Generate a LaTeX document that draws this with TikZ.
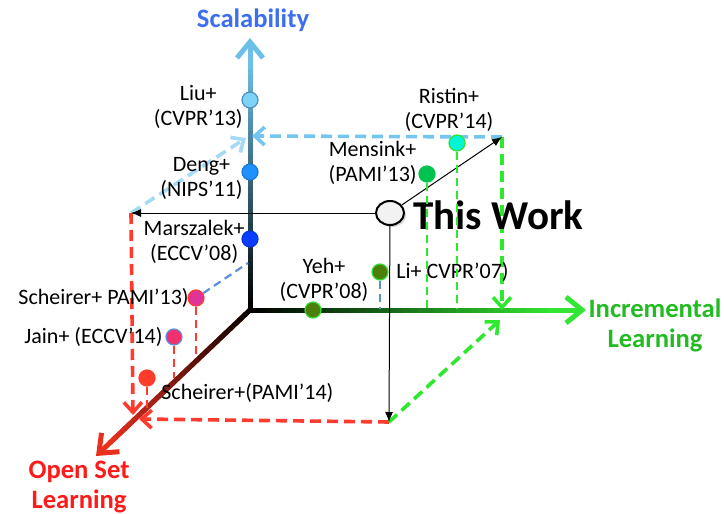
\documentclass[tikz,border=0pt]{standalone}
\usepackage{fontspec}
\setmainfont{Carlito}
\usetikzlibrary{arrows.meta}
\usetikzlibrary{shapes.geometric}
\usetikzlibrary{shadows}
\usetikzlibrary{calc}
\usepackage{xcolor}

\definecolor{scalblue}{HTML}{6CBFE6}
\definecolor{scaltext}{HTML}{3D6EF0}
\definecolor{incgreen}{HTML}{33E633}
\definecolor{inctext}{HTML}{22BB22}
\definecolor{openred}{HTML}{E8301F}
\definecolor{opentext}{HTML}{FF1A1A}
\definecolor{frameblue}{HTML}{74C6F0}
\definecolor{framered}{HTML}{FF3B2F}
\definecolor{framegreen}{HTML}{2EE82E}
\definecolor{dropblue}{HTML}{5A8FE0}
\definecolor{dotgreen}{HTML}{33E033}
\definecolor{twfill}{HTML}{F2F2F2}
% dot colours
\definecolor{liucol}{HTML}{80D2F7}
\definecolor{liuedge}{HTML}{4A90C0}
\definecolor{dengcol}{HTML}{1E90FF}
\definecolor{marscol}{HTML}{0A3DFF}
\definecolor{sch13col}{HTML}{E03399}
\definecolor{jaincol}{HTML}{F2306E}
\definecolor{sch14col}{HTML}{FF3B2B}
\definecolor{yehcol}{HTML}{4D7F0A}
\definecolor{menscol}{HTML}{00C24F}
\definecolor{ristcol}{HTML}{00F5D4}

\begin{document}
\begin{tikzpicture}[x=0.5pt,y=-0.5pt,
  axis/.style={line width=2.5pt},
  axistip/.style={-{Straight Barb[length=8pt,width=13pt]}},
  frame/.style={dash pattern=on 5.5pt off 3pt, line width=1.8pt,
    -{Straight Barb[length=5pt,width=9pt]}},
  drop/.style={dash pattern=on 4pt off 2.5pt, line width=1.1pt},
  dot/.style={circle, draw, line width=0.6pt, inner sep=0pt, minimum size=8pt},
  paper/.style={align=center, inner sep=0pt, font=\fontsize{11}{12.5}\selectfont},
  axislabel/.style={align=center, inner sep=0pt, font=\fontsize{13.3}{15}\selectfont\bfseries},
  pointer/.style={-{Latex[length=5pt,width=4pt]}, line width=0.5pt}]

      \useasboundingbox (0,0) rectangle (724,514);

      % axes
      \coordinate (O) at (250,310);
      \coordinate (scaltip) at (250,38);
      \coordinate (inctip) at (586,310);
      \coordinate (opentip) at (96,456);

      \draw[axis, axistip, scalblue] (O) -- (scaltip);
      \draw[axis, axistip, incgreen] (O) -- (inctip);
      \draw[axis, axistip, openred] (O) -- (opentip);

      % colour ramp, in short pieces
      \foreach \i in {0,...,39}{
        \pgfmathtruncatemacro\p{100*\i/39}
        \draw[axis, scalblue!\p!black] ($(O)!\i/44!(scaltip)$) -- ($(O)!\i/44+1/44!(scaltip)$);
        \draw[axis, incgreen!\p!black] ($(O)!\i/44!(inctip)$) -- ($(O)!\i/44+1/44!(inctip)$);
        \draw[axis, openred!\p!black] ($(O)!\i/44!(opentip)$) -- ($(O)!\i/44+1/44!(opentip)$);
      }
      \draw[axis, black, line join=miter] ($(O)!0.03!(scaltip)$) -- (O) -- ($(O)!0.03!(inctip)$);

      \node[axislabel, text=scaltext] (scaltxt) at (253,20) {Scalability};
      \node[axislabel, text=inctext] (inctxt) at (655,325) {Incremental\\Learning};
      \node[axislabel, text=opentext] (opentxt) at (79,487) {Open Set\\Learning};

      % this work and its projections
      \coordinate (back) at (131,213);
      \coordinate (corner) at (502,137);
      \coordinate (floor) at (389,422);
      \coordinate (scalhit) at (252,136);
      \coordinate (scalhitb) at (246,138);
      \coordinate (openhit) at (133,415);
      \coordinate (openhitb) at (139,419);
      \coordinate (inchit) at (502,310);
      \coordinate (inchitb) at (500,320);

      \draw[frame, frameblue] (corner) -- (scalhit);
      \draw[frame, frameblue!65!white] (back) -- (scalhitb);
      \draw[frame, framered] (back) -- (openhit);
      \draw[frame, framered] (floor) -- (openhitb);
      \draw[frame, framegreen] (corner) -- (inchit);
      \draw[frame, framegreen] (floor) -- (inchitb);

      \node[ellipse, draw, line width=1pt, fill=twfill, minimum width=14pt,
      minimum height=12pt, inner sep=0pt,
      drop shadow={shadow xshift=1pt, shadow yshift=-1pt, opacity=0.35}] (tw) at (390,213) {};
      \node[anchor=west, inner sep=0pt, font=\fontsize{20.5}{24}\selectfont\bfseries] (twtxt)
      at (413,215) {This Work};

      \draw[pointer] (tw) -- (back);
      \draw[pointer] (tw) -- (corner);
      \draw[pointer] (tw) -- (floor);

      % scalability
      \node[dot, fill=liucol, draw=liuedge] (liu) at (250,100) {};
      \node[paper, anchor=east] (liutxt) at (243,107) {Liu+\\(CVPR’13)};
      \node[dot, fill=dengcol, draw=dengcol!85!black] (deng) at (250,172) {};
      \node[paper, anchor=east] (dengtxt) at (243,178) {Deng+\\(NIPS’11)};
      \node[dot, fill=marscol, draw=marscol!85!black] (mars) at (250,239) {};
      \node[paper, anchor=east] (marstxt) at (245,242) {Marszalek+\\(ECCV’08)};

      % open set
      \coordinate (marsfoot) at (248,263);
      \coordinate (sch13foot) at (196,358);
      \coordinate (jainfoot) at (174,378);
      \coordinate (sch14foot) at (147,408);

      \node[dot, fill=sch13col, draw=framered] (sch13) at (196,298) {};
      \node[paper, anchor=east] (sch13txt) at (189,298) {Scheirer+ PAMI’13)};
      \node[dot, fill=jaincol, draw=dropblue] (jain) at (174,337) {};
      \node[paper, anchor=east] (jaintxt) at (163,337) {Jain+ (ECCV’14)};
      \node[dot, fill=sch14col, draw=sch14col] (sch14) at (147,378) {};
      \node[paper, anchor=west] (sch14txt) at (161,393) {Scheirer+(PAMI’14)};

      \draw[drop, dropblue] (sch13) -- (marsfoot);
      \draw[drop, framered] (sch13) -- (sch13foot);
      \draw[drop, framered] (jain) -- (jainfoot);
      \draw[drop, framered] (sch14) -- (sch14foot);

      % incremental
      \coordinate (lifoot) at (380,309);
      \coordinate (mensfoot) at (427,309);
      \coordinate (ristfoot) at (457,309);

      \node[dot, fill=yehcol, draw=dotgreen] (yeh) at (313,310) {};
      \node[paper] (yehtxt) at (324,280) {Yeh+\\(CVPR’08)};
      \node[dot, fill=yehcol, draw=dotgreen] (li) at (380,272) {};
      \node[paper, anchor=west] (litxt) at (396,272) {Li+ CVPR’07)};
      \node[dot, fill=menscol, draw=menscol] (mens) at (427,174) {};
      \node[paper, anchor=east] (menstxt) at (417,163) {Mensink+\\(PAMI’13)};
      \node[dot, fill=ristcol, draw=dotgreen] (rist) at (457,143) {};
      \node[paper] (risttxt) at (449,110) {Ristin+\\(CVPR’14)};

      \draw[drop, dropblue] (li) -- (lifoot);
      \draw[drop, framegreen, line width=1.3pt] (mens) -- (mensfoot);
      \draw[drop, framegreen, line width=1.3pt] (rist) -- (ristfoot);

    \end{tikzpicture}
\end{document}
